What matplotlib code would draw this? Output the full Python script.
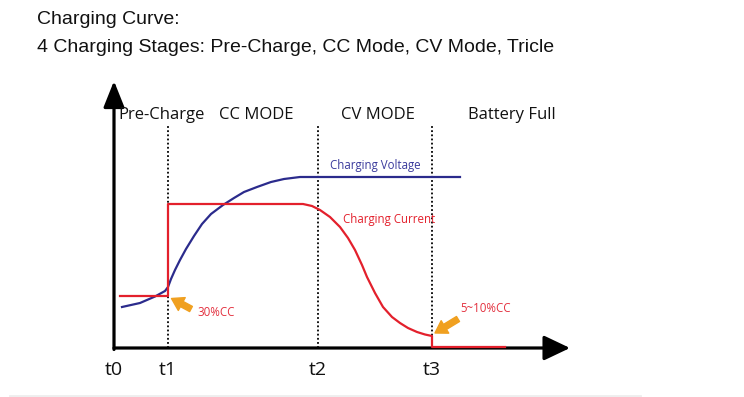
import matplotlib
matplotlib.use("Agg")
import matplotlib.pyplot as plt
from matplotlib.lines import Line2D

# --- data (time units along the axis, arbitrary level units) ---
stage_times = [0, 54, 204, 318]
stage_ticks = ["t0", "t1", "t2", "t3"]

stage_names = ["Pre-Charge", "CC MODE", "CV MODE", "Battery Full"]
stage_name_x = [4, 142.5, 263.5, 397.5]

volt_t = [8, 26, 41, 51, 54, 57, 61, 66, 72, 80, 88, 97, 109, 120, 130,
          143, 157, 170, 186, 204, 346]
volt_v = [41, 45, 51.5, 57, 61, 69, 78, 88, 99, 112, 124, 134, 143, 150,
          156, 161, 166, 169, 171, 171, 171]

curr_t = [6, 54, 54, 189, 198, 206, 216, 226, 234, 241, 248, 253, 261, 269,
          278, 286, 294, 303, 311, 318, 318, 391]
curr_i = [52, 52, 144, 144, 142, 138, 131, 121, 110, 98, 83, 71, 55, 41,
          31, 25, 20, 16, 13.5, 12, 1, 1]

BLUE = "#2b2b8c"
RED = "#e3202c"
ORANGE = "#f0a020"

fig = plt.figure(figsize=(7.44, 3.97), dpi=100)
fig.patch.set_facecolor("white")

# titles
fig.text(37 / 744, 1 - 20 / 397, "Charging Curve:", fontsize=14,
         family="Liberation Sans", va="center", ha="left", color="#111111")
fig.text(37 / 744, 1 - 47 / 397,
         "4 Charging Stages: Pre-Charge, CC Mode, CV Mode, Tricle",
         fontsize=14, family="Liberation Sans", va="center", ha="left",
         color="#111111")

ax = fig.add_axes([114 / 744, 49 / 397, 456 / 744, 266 / 397])
ax.set_xlim(0, 456)
ax.set_ylim(0, 266)
ax.axis("off")

# axes with arrow heads
ax.annotate("", xy=(456, 0), xytext=(0, 0), annotation_clip=False,
            arrowprops=dict(arrowstyle="-|>,head_length=0.8,head_width=0.38",
                            mutation_scale=20, lw=2.3, color="black",
                            shrinkA=0, shrinkB=0))
ax.annotate("", xy=(0, 267), xytext=(0, -1.5), annotation_clip=False,
            arrowprops=dict(arrowstyle="-|>,head_length=0.8,head_width=0.32",
                            mutation_scale=20, lw=2.3, color="black",
                            shrinkA=0, shrinkB=0))

# stage boundaries
for t in stage_times[1:]:
    ax.plot([t, t], [0, 223], color="black", lw=1.3,
            linestyle=(0, (1, 1.3)), clip_on=False, zorder=1)

ax.plot(volt_t, volt_v, color=BLUE, lw=1.6, clip_on=False, zorder=3)
ax.plot(curr_t, curr_i, color=RED, lw=1.6, clip_on=False, zorder=3)

# stage names
for name, x in zip(stage_names, stage_name_x):
    ax.text(x, 233, name, fontsize=12, family="Open Sans",
            ha="left" if name == "Pre-Charge" else "center", va="center",
            color="#111111")

for t, lab in zip(stage_times, stage_ticks):
    ax.text(t, -22, lab, fontsize=14, family="Open Sans", ha="center",
            va="center", color="#111111")

ax.text(216, 182, "Charging Voltage", fontsize=8.3, family="Open Sans",
        color="#3a3a9c", ha="left", va="center")
ax.text(229, 128, "Charging Current", fontsize=8.3, family="Open Sans",
        color=RED, ha="left", va="center")
ax.text(83, 35, "30%CC", fontsize=8.3, family="Open Sans",
        color="#e3303e", ha="left", va="center")
ax.text(346, 39, "5~10%CC", fontsize=8.3, family="Open Sans",
        color="#e3303e", ha="left", va="center")

# orange pointers
arrow_style = "simple,head_length=0.6,head_width=0.75,tail_width=0.3"
ax.annotate("", xy=(57.5, 49.5), xytext=(77, 39),
            arrowprops=dict(arrowstyle=arrow_style, mutation_scale=14,
                            color=ORANGE, shrinkA=0, shrinkB=0))
ax.annotate("", xy=(321, 15), xytext=(344, 29),
            arrowprops=dict(arrowstyle=arrow_style, mutation_scale=14,
                            color=ORANGE, shrinkA=0, shrinkB=0))

# faint band at the bottom edge
fig.add_artist(Line2D([10 / 744, 640 / 744], [1.5 / 397, 1.5 / 397],
                      color="#eeeeee", lw=2))

fig.savefig("out.png", dpi=100)
